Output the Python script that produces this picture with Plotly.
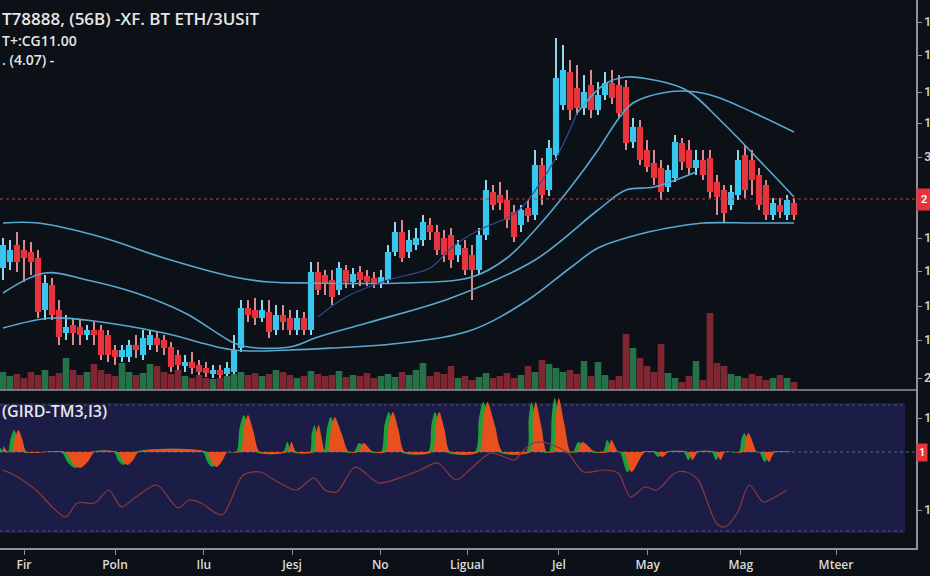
import plotly.graph_objects as go

# ---------------- data ----------------
idx = list(range(114))

open_ = [132,138,155,150,148,142,90,115,90,67, 75,73,65,70,70,65,50,43,43,55,
         45,55,62,60,53,45,34,38,35,32, 26,30,26,28,52,92,90,82,88,70,
         85,82,70,82,70,128,125,120,110,130, 118,128,124,122,117,120,148,168,148,155,
         160,175,168,162,165,145,152,145,130,165, 208,205,200,188,175,192,185,235,210,245,
         295,328,312,292,315,290,305,317,315,313, 258,273,250,237,232,213,222,257,250,232,
         240,242,218,210,195,205,245,240,225,215, 185,195,185,197]
close = [155,150,138,142,138,88,117,85,63,73, 67,65,70,65,45,45,43,50,55,50,
         62,65,55,52,33,35,38,32,28,27, 30,25,32,50,92,85,82,90,68,85,
         78,70,82,70,128,110,117,103,132,118, 126,120,118,117,123,148,168,142,160,162,
         178,168,150,145,140,155,130,130,165,210, 195,197,180,163,190,184,235,205,252,322,
         330,290,292,308,290,305,317,302,287,257, 273,240,233,222,208,230,258,238,232,240,
         225,208,203,187,208,240,210,220,195,185, 197,188,200,185]
high = [162,160,168,160,158,150,125,122,100,85, 82,80,75,78,75,70,55,55,60,65,
        70,70,68,65,58,50,45,48,40,38, 35,35,38,65,100,100,102,100,100,95,
        95,90,90,88,138,138,130,130,138,135, 132,134,130,128,130,155,178,180,170,172,
        185,182,175,170,172,160,160,155,172,220, 215,218,210,195,195,200,250,242,260,362,
        355,340,335,325,330,318,328,330,325,320, 282,280,260,250,240,235,265,262,260,250,
        250,250,225,215,215,250,255,250,232,220, 202,202,205,202]
low = [120,130,128,118,125,82,80,80,55,60, 55,55,60,55,40,38,35,38,38,42,
       40,50,48,45,28,30,28,26,24,23, 22,21,22,25,48,78,75,78,62,65,
       70,65,65,65,65,105,105,95,105,112, 112,114,114,112,112,116,144,138,142,150,
       154,160,145,138,132,138,125,100,125,160, 190,190,172,158,168,178,180,195,204,240,
       290,280,285,285,282,285,300,296,282,250, 252,235,228,215,200,208,218,230,225,225,
       220,202,185,178,190,200,202,205,190,180, 180,182,180,180]
volume = [18,14,16,12,18,15,20,14,17,32, 20,15,18,26,20,16,14,27,18,15,
          17,26,24,18,16,20,14,12,15,12, 11,12,14,16,18,15,17,14,16,20,
          18,15,12,14,19,16,14,15,19,13, 15,14,17,12,14,16,13,18,15,20,
          27,14,18,16,24,12,14,10,13,17, 12,14,17,12,15,24,18,30,26,22,
          18,20,16,29,14,28,15,10,14,56, 42,32,24,18,46,17,12,8,14,29,
          10,77,27,24,16,14,12,16,14,10, 12,15,12,8]

# moving-average style curves (index, value)
ma_slow_x = [0, 5, 14, 23, 33, 38, 44, 57, 67, 72, 76, 81, 85, 88, 90, 95, 99, 102, 107, 113]
ma_slow_y = [177, 177, 163, 142, 123, 118, 117, 117, 123, 142, 170, 212, 250, 282, 297, 308, 308, 303, 288, 268]
ma_mid_x = [0, 6, 12, 19, 26, 33, 35, 41, 45, 52, 64, 76, 85, 89, 93, 99]
ma_mid_y = [107, 127, 120, 107, 87, 57, 53, 53, 63, 77, 102, 140, 190, 210, 213, 228]
ma_long_x = [0, 7, 14, 23, 33, 41, 47, 57, 67, 75, 81, 85, 90, 95, 100, 107, 113]
ma_long_y = [72, 82, 78, 67, 50, 50, 52, 57, 70, 100, 132, 152, 164, 172, 177, 177, 177]
ma_fast_x = [82, 86, 89, 93, 97, 99, 102, 105, 108, 111, 113]
ma_fast_y = [287, 316, 323, 320, 312, 303, 283, 262, 240, 218, 203]
ma_short_x = [45, 49, 55, 61, 64, 68, 72, 74, 79, 82]
ma_short_y = [83, 103, 120, 132, 152, 170, 182, 192, 242, 287]

price_level = 201

# oscillator histogram (index, value)
osc_x = [0, 0.8,
         1.3, 1.7, 2.2, 2.8, 3.4,
         8.9, 9.9, 11, 12.1, 13.1,
         16.4, 17.1, 17.8, 18.6, 19.4,
         29.1, 29.8, 30.5, 31.3, 32.1,
         33.9, 34.4, 35, 35.8, 36.7,
         40.6, 41.2, 41.9,
         44.4, 44.7, 45.1, 45.5, 46,
         46.4, 46.9, 47.4, 48.4, 49.4,
         50.7, 51.5, 52.9,
         54.6, 55.1, 55.7, 56.5, 57.4,
         61.3, 61.8, 62.3, 63.1, 63.9,
         68, 68.6, 69.2, 70.3, 71.4,
         75.3, 75.7, 76.1, 76.9, 77.7,
         78.6, 79.0, 79.4, 80.2, 81.1,
         82, 82.8, 84.6,
         86.3, 86.9, 87.9,
         88.7, 89.8, 91.7,
         93.4, 94.2, 95.1,
         97.8, 98.5, 99.3,
         101.8, 102.5, 103.2,
         105.7, 106.1, 106.5, 107.1, 107.7,
         108.6, 109.4, 110.3,
         113]
osc_v = [6, 0,
         0, 14, 22, 12, 0,
         0, -11, -16, -10, 0,
         0, -9, -13, -8, 0,
         0, -10, -15, -9, 0,
         0, 24, 37, 20, 0,
         0, 10, 0,
         0, 18, 27, 15, 0,
         0, 24, 35, 18, 0,
         0, 9, 0,
         0, 27, 40, 22, 0,
         0, 27, 40, 22, 0,
         0, 34, 50, 26, 0,
         0, 34, 50, 26, 0,
         0, 37, 54, 28, 0,
         0, 10, 0,
         0, 12, 0,
         0, -20, 0,
         0, -5, 0,
         0, -8, 0,
         0, -8, 0,
         0, 13, 19, 10, 0,
         0, -10, 0,
         0]
sig_x = [0, 2.1, 4.7, 8.9, 10.6, 13.1, 15.1, 16.9, 19, 22, 25, 26.6, 28.3, 31.3, 34.3, 36.7,
         39.3, 41.9, 44.4, 46, 47.7, 50.3, 53.7, 57, 59.6, 62.1, 64.7, 67.1, 69.7, 73.1, 74,
         75.7, 77.7, 80.7, 82.9, 85.9, 87.9, 89.6, 91.7, 93.4, 96, 97.6, 99.3, 101.9, 103.1,
         104.9, 106.6, 108.6, 110.3, 112]
sig_v = [-18, -25, -38, -65, -51, -51, -38, -55, -45, -33, -56, -48, -51, -63, -23, -20,
         -30, -38, -26, -38, -40, -15, -31, -25, -18, -11, -28, -15, -1, -8, -1,
         9, 9, -1, -20, -18, -21, -45, -35, -38, -21, -20, -28, -71, -75,
         -61, -33, -50, -45, -38]

tick_pos = [3, 16, 28.7, 41.3, 53.9, 66.3, 79.4, 92.1, 105.4, 119]
tick_txt = ["Fir", "Poln", "Ilu", "Jesj", "No", "Ligual", "Jel", "May", "Mag", "Mteer"]
y_tick_vals = [378, 345, 308, 277, 243, 162, 129, 94, 60, 22]
y_tick_txt = ["1", "1", "1", "1", "3", "1", "1", "1", "1", "2"]
y2_tick_vals = [34, -58]
y2_tick_txt = ["1", "1"]

# ---------------- style ----------------
BG = "#0c1017"
PANE2 = "#1b1d46"
UP = "#36c6ee"
DOWN = "#e8323c"
AXIS = "#8d929c"
MA_COL = "#5aa8d0"
FONT = "Roboto"
TFONT = "Open Sans"

up = [c >= o for o, c in zip(open_, close)]
vol_colors = ["#27714a" if u else "#7e2733" for u in up]
candle_colors = [UP if u else DOWN for u in up]
wick_colors = ["#8fd8f0" if u else "#d88a90" for u in up]
body_base = [min(o, c) for o, c in zip(open_, close)]
body_len = [max(abs(c - o), 1.5) for o, c in zip(open_, close)]
wick_len = [h - l for h, l in zip(high, low)]

fig = go.Figure()

fig.add_trace(go.Bar(x=idx, y=volume, marker_color=vol_colors, marker_line_width=0,
                     width=0.95, yaxis="y3", xaxis="x", showlegend=False))

for xs, ys, col, w in [(ma_long_x, ma_long_y, MA_COL, 1.6),
                       (ma_mid_x, ma_mid_y, MA_COL, 1.6),
                       (ma_slow_x, ma_slow_y, MA_COL, 1.6),
                       (ma_short_x, ma_short_y, "#2f4f8f", 1.2),
                       (ma_fast_x, ma_fast_y, MA_COL, 1.6)]:
    fig.add_trace(go.Scatter(x=xs, y=ys, mode="lines", line=dict(color=col, width=w, shape="spline", smoothing=1.0),
                             xaxis="x", yaxis="y", showlegend=False, hoverinfo="skip"))

# candles: wick + body
fig.add_trace(go.Bar(x=idx, y=wick_len, base=low, width=0.16, marker_color=wick_colors,
                     marker_line_width=0, xaxis="x", yaxis="y", showlegend=False, hoverinfo="skip"))
fig.add_trace(go.Bar(x=idx, y=body_len, base=body_base, width=0.88, marker_color=candle_colors,
                     marker_line_width=0, xaxis="x", yaxis="y", showlegend=False,
                     customdata=list(zip(open_, high, low, close)),
                     hovertemplate="O %{customdata[0]}<br>H %{customdata[1]}<br>L %{customdata[2]}<br>C %{customdata[3]}<extra></extra>"))

# oscillator: green leading edge, then orange body
fig.add_trace(go.Scatter(x=[v - 0.6 for v in osc_x], y=osc_v, mode="lines", fill="tozeroy",
                         fillcolor="#1fa03a", line=dict(width=0, shape="spline", smoothing=0.8),
                         xaxis="x2", yaxis="y2", showlegend=False, hoverinfo="skip"))
fig.add_trace(go.Scatter(x=osc_x, y=osc_v, mode="lines", fill="tozeroy",
                         fillcolor="#e8501e", line=dict(width=0, shape="spline", smoothing=0.8),
                         xaxis="x2", yaxis="y2", showlegend=False, hoverinfo="skip"))
fig.add_trace(go.Scatter(x=sig_x, y=sig_v, mode="lines",
                         line=dict(color="#8a3a3c", width=1.2, shape="spline", smoothing=0.8),
                         xaxis="x2", yaxis="y2", showlegend=False, hoverinfo="skip"))

split = 158 / 548
xr = [-3 / 7, 913 / 7]

fig.update_layout(
    width=930, height=576,
    margin=dict(l=0, r=14, t=0, b=28),
    paper_bgcolor=BG, plot_bgcolor=BG,
    font=dict(family=FONT, color="#d8d8d8"),
    barmode="overlay",
    xaxis=dict(domain=[0, 1], range=xr, anchor="y", showticklabels=False, showgrid=False,
               zeroline=False, showline=False),
    yaxis=dict(domain=[split, 1], range=[10, 400], side="right", showgrid=False, zeroline=False,
               showline=True, linecolor=AXIS, linewidth=1.5,
               tickmode="array", tickvals=y_tick_vals, ticktext=y_tick_txt,
               ticks="outside", ticklen=4, tickcolor=AXIS,
               tickfont=dict(size=12, color="#d0d0d0", family=FONT, weight=600), automargin=False),
    yaxis3=dict(overlaying="y", range=[0, 390], visible=False),
    xaxis2=dict(domain=[0, 1], range=xr, anchor="y2", showgrid=False, zeroline=False,
                tickmode="array", tickvals=tick_pos, ticktext=tick_txt,
                ticks="outside", ticklen=5, tickcolor=AXIS, showline=True, linecolor=AXIS, linewidth=1.5,
                tickfont=dict(size=12, color="#dcdcdc", family=TFONT, weight=600), automargin=False),
    yaxis2=dict(domain=[0, split], range=[-96, 62], side="right", anchor="x2", showgrid=False,
                zeroline=False, showline=True, linecolor=AXIS, linewidth=1.5,
                tickmode="array", tickvals=y2_tick_vals, ticktext=y2_tick_txt,
                ticks="outside", ticklen=4, tickcolor=AXIS,
                tickfont=dict(size=12, color="#d0d0d0", family=FONT, weight=600), automargin=False),
    shapes=[
        dict(type="rect", xref="paper", yref="y2", x0=0, x1=905 / 916, y0=-81, y1=49,
             fillcolor=PANE2, line=dict(width=0), layer="below"),
        dict(type="line", xref="paper", yref="y2", x0=0, x1=905 / 916, y0=47, y1=47,
             line=dict(color="#4b5288", width=1, dash="dot"), layer="below"),
        dict(type="line", xref="paper", yref="y2", x0=0, x1=1, y0=0, y1=0,
             line=dict(color="#5a6090", width=1, dash="dot"), layer="below"),
        dict(type="line", xref="paper", yref="y2", x0=0, x1=905 / 916, y0=-79, y1=-79,
             line=dict(color="#4b5288", width=1, dash="dot"), layer="below"),
        dict(type="line", xref="paper", yref="paper", x0=0, x1=1, y0=split, y1=split,
             line=dict(color=AXIS, width=1.5)),
        dict(type="line", xref="paper", yref="y", x0=0, x1=1, y0=price_level, y1=price_level,
             line=dict(color="#c23a3a", width=1.2, dash="dot")),
    ],
    annotations=[
        dict(xref="paper", yref="paper", x=0.0, y=1 - 18 / 548, xanchor="left", yanchor="middle",
             text="T78888, (56B) -XF. BT ETH/3USiT", showarrow=False,
             font=dict(size=17, color="#e6e6e6", family=TFONT, weight=600)),
        dict(xref="paper", yref="paper", x=0.0, y=1 - 40 / 548, xanchor="left", yanchor="middle",
             text="T+:CG11.00", showarrow=False,
             font=dict(size=14, color="#e6e6e6", family=TFONT, weight=600)),
        dict(xref="paper", yref="paper", x=0.0, y=1 - 60 / 548, xanchor="left", yanchor="middle",
             text=". (4.07) -", showarrow=False,
             font=dict(size=14, color="#e6e6e6", family=TFONT, weight=600)),
        dict(xref="paper", yref="paper", x=0.0, y=(548 - 411) / 548, xanchor="left", yanchor="middle",
             text="(GIRD-TM3,I3)", showarrow=False,
             font=dict(size=16, color="#e6e6e6", family=TFONT, weight=600)),
        dict(xref="paper", yref="y", x=1, y=price_level, xanchor="left", yanchor="middle",
             text="2", showarrow=False, bgcolor=DOWN, borderpad=4,
             font=dict(size=11, color="#ffffff", family=FONT, weight=600)),
        dict(xref="paper", yref="y2", x=1, y=0, xanchor="left", yanchor="middle",
             text="1", showarrow=False, bgcolor=DOWN, borderpad=2,
             font=dict(size=11, color="#ffffff", family=FONT, weight=600)),
    ],
)

fig.write_html("out.html", config={"displayModeBar": False},
               post_script="document.body.style.margin='0';document.body.style.background='#0c1017';")
